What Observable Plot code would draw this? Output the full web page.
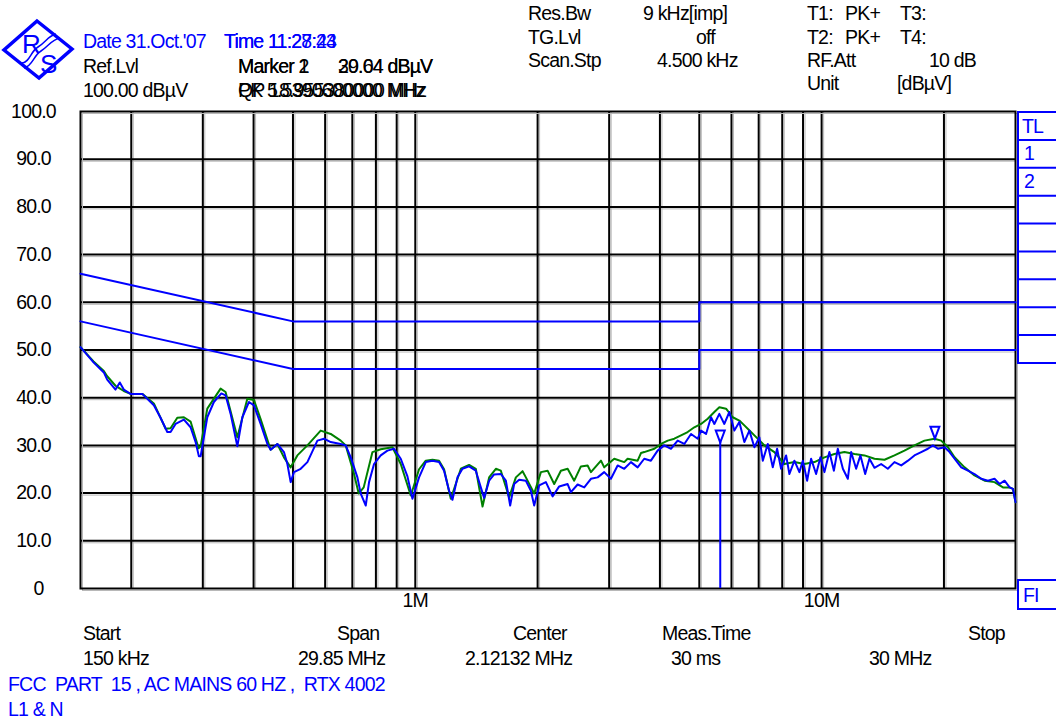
<!DOCTYPE html>
<html><head><meta charset="utf-8">
<script src="https://cdn.jsdelivr.net/npm/d3@7"></script>
<script src="https://cdn.jsdelivr.net/npm/@observablehq/plot@0.6"></script>
<style>
body{margin:0;background:#fff;}
#wrap{position:relative;width:1056px;height:722px;overflow:hidden;background:#fff;}
#wrap svg{position:absolute;left:0;top:0;}
</style></head>
<body><div id="wrap"></div>
<script>
// ---------- data ----------
const gridFreqs = [0.2,0.3,0.4,0.5,0.6,0.7,0.8,0.9,1,2,3,4,5,6,7,8,9,10,20];
const gridLevels = [10,20,30,40,50,60,70,80,90];
const yTicks = [0,10,20,30,40,50,60,70,80,90,100];
const yTickLabels = ["\u20070","10.0","20.0","30.0","40.0","50.0","60.0","70.0","80.0","90.0","100.0"];
const xTickFreqs = [1,10];
const xTickLabels = ["1M","10M"];

const limitFreqs = [0.15,0.5,5,5,30];
const limit1Levels = [66,56,56,60,60];
const limit2Levels = [56,46,46,50,50];

const blueFreq = [0.15,0.1615,0.1712,0.1745,0.1829,0.1874,0.1917,0.1992,0.2129,0.2273,0.2361,0.2453,0.2499,0.2571,0.2695,0.2799,0.2880,0.2934,0.2963,0.3077,0.3194,0.3332,0.3413,0.3512,0.3648,0.3753,0.3896,0.4008,0.4163,0.4325,0.4406,0.4577,0.4751,0.4844,0.4935,0.5029,0.5224,0.5426,0.5742,0.5962,0.6192,0.6554,0.6742,0.6936,0.7204,0.7341,0.7553,0.7695,0.7916,0.8222,0.8540,0.8866,0.9209,0.9565,0.9840,1.0216,1.0612,1.1023,1.1441,1.1771,1.2109,1.2346,1.2700,1.3065,1.3565,1.4090,1.4495,1.4771,1.5197,1.5634,1.6239,1.6708,1.7120,1.7511,1.8018,1.8715,1.9253,1.9616,2.0179,2.0961,2.1771,2.2604,2.3708,2.4153,2.5089,2.6049,2.7056,2.8103,2.9172,3.0303,3.1475,3.2678,3.3942,3.5255,3.6596,3.8007,3.9479,4.0991,4.2578,4.4225,4.5930,4.7708,4.9556,5.049,5.195,5.343,5.445,5.601,5.762,5.928,6.098,6.273,6.454,6.640,6.832,7.028,7.165,7.370,7.582,7.770,7.947,8.177,8.331,8.570,8.817,8.989,9.211,9.422,9.692,9.932,10.16,10.45,10.72,10.96,11.28,11.60,11.82,12.16,12.46,12.80,13.11,13.49,14.01,14.55,15.11,15.70,16.31,16.92,17.58,18.26,18.79,19.33,20.07,20.65,21.24,22.06,22.91,23.78,24.71,25.66,26.64,27.41,28.20,29.01,29.57,30];
const blueLevel = [50.6,47.4,45.3,43.8,41.7,43.2,41.7,40.8,40.8,38.4,35.8,32.8,32.8,34.5,35.4,33.8,30.7,27.7,27.7,35.9,39.1,40.9,40.5,36.6,29.8,35.9,39.1,38.4,34.5,30.3,29.1,30.3,28.6,26.1,22.3,24.4,25.1,26.5,31.0,31.4,30.7,30.3,30.0,27.5,23.3,19.9,17.4,22.3,26.1,27.9,28.9,29.3,27.2,23.5,18.8,23.3,26.5,26.8,26.5,24.7,20.5,18.6,23.3,25.1,25.6,24.7,21.2,19.0,22.6,23.9,24.0,22.6,17.4,21.9,22.8,22.6,20.5,17.4,21.6,22.3,19.3,21.4,21.9,20.2,21.8,21.2,23.0,23.3,24.4,23.0,25.8,25.1,26.5,25.4,27.2,26.8,28.9,30.0,29.3,31.0,30.3,32.4,31.4,33.1,32.4,35.9,34.5,36.6,34.5,37.0,33.1,34.9,30.7,33.1,29.6,31.7,26.8,30.3,25.4,29.3,25.1,27.9,24.0,26.8,24.4,26.8,22.6,27.2,24.0,27.5,24.4,28.6,24.7,29.3,25.1,23.0,28.6,25.1,27.9,24.0,27.2,25.3,26.1,25.1,26.5,25.8,26.8,27.9,28.6,29.3,30.0,29.3,29.6,28.6,27.2,25.4,24.7,24.0,23.0,22.6,23.0,21.9,22.6,21.2,20.9,18.1];

const greenFreq = [0.15,0.1615,0.1712,0.1745,0.1829,0.1860,0.1917,0.1992,0.2129,0.2273,0.2430,0.2499,0.2596,0.2695,0.2799,0.2929,0.2963,0.3077,0.3318,0.3413,0.3648,0.3861,0.4008,0.4163,0.4406,0.4577,0.4751,0.4935,0.5126,0.5426,0.5850,0.6192,0.6554,0.6742,0.7068,0.7257,0.7466,0.7845,0.8222,0.8785,0.9209,0.9748,1.0216,1.0612,1.1023,1.1441,1.1771,1.2229,1.2945,1.3565,1.4090,1.4638,1.5197,1.5787,1.6239,1.7022,1.7682,1.8366,1.8715,1.9616,2.0375,2.1164,2.1972,2.2820,2.3708,2.4609,2.5562,2.6552,2.7056,2.8643,2.9172,3.0876,3.2678,3.3306,3.5255,3.5925,3.6596,3.8751,4.025,4.1807,4.34,4.5081,4.68,4.8604,5.049,5.2445,5.4449,5.6013,5.818,6.043,6.273,6.454,6.579,6.832,7.229,7.651,8.098,8.570,9.070,9.601,10.16,10.75,11.38,12.05,12.75,13.49,14.28,15.11,15.99,16.92,17.91,18.96,19.69,20.46,21.24,22.48,23.78,25.18,26.64,27.94,29.01,29.57,30];
const greenLevel = [50.6,47.6,45.6,44.5,42.5,42.1,41.4,40.8,40.8,38.8,33.5,33.6,35.8,35.9,35.0,29.4,29.8,37.7,41.9,41.2,31.7,39.8,39.5,35.5,29.1,30.3,27.5,25.4,27.9,30.0,33.1,32.4,31.0,30.0,24.0,19.9,21.2,28.6,29.2,29.6,26.1,19.5,25.0,26.8,27.0,26.8,25.0,18.8,25.1,25.9,25.1,17.2,23.3,25.1,24.7,19.1,23.3,24.6,23.3,19.9,24.4,24.7,21.9,24.7,25.1,22.6,25.6,25.8,24.4,26.8,25.4,27.2,26.5,27.2,26.8,28.4,28.6,29.3,30.3,31.0,31.4,32.1,32.8,33.8,34.5,35.6,37.0,38.0,37.7,35.9,35.2,34.2,33.5,32.1,30.0,28.6,26.1,26.5,26.1,26.5,27.5,28.2,28.6,28.2,27.9,27.2,27.0,27.9,28.9,30.0,31.0,31.4,31.0,29.6,27.5,25.4,23.7,22.6,22.3,21.2,21.2,20.9,18.1];

const markerFreq = [5.63, 19.0];
const markerLevel = [30.6, 31.4];

// ---------- tables ----------
const blue = blueFreq.map((f,i)=>({f, v: blueLevel[i]}));
const green = greenFreq.map((f,i)=>({f, v: greenLevel[i]}));
const lim1 = limitFreqs.map((f,i)=>({f, v: limit1Levels[i]}));
const lim2 = limitFreqs.map((f,i)=>({f, v: limit2Levels[i]}));
const markers = markerFreq.map((f,i)=>({f, v: markerLevel[i]}));

const BLUE = "#0000ff", GREEN = "#008000";
const FONT = "'Liberation Sans', Arial, sans-serif";

const triDown = { draw(ctx, size) { const w = 4.5, h = 12; ctx.moveTo(-w, -h); ctx.lineTo(w, -h); ctx.lineTo(0, 0); ctx.closePath(); } };

const chart = Plot.plot({
  width: 1056, height: 722,
  marginLeft: 80, marginRight: 41, marginTop: 111, marginBottom: 134,
  x: {type: "log", domain: [0.15, 30]},
  y: {domain: [0, 100]},
  style: {fontFamily: FONT, fontSize: "19.5px", letterSpacing: "-0.8px", background: "white", color: "black", overflow: "visible"},
  marks: [
    Plot.ruleX(gridFreqs, {stroke: "#b8b8b8", strokeWidth: 1, dx: 2}),
    Plot.ruleY(gridLevels, {stroke: "#b8b8b8", strokeWidth: 1, dy: 2}),
    Plot.ruleX(gridFreqs, {stroke: "black", strokeWidth: 2}),
    Plot.ruleY(gridLevels, {stroke: "black", strokeWidth: 2}),
    Plot.frame({stroke: "#b8b8b8", strokeWidth: 1, dx: 2, dy: 2}),
    Plot.frame({stroke: "black", strokeWidth: 2}),
    Plot.line(lim1, {x: "f", y: "v", stroke: BLUE, strokeWidth: 2}),
    Plot.line(lim2, {x: "f", y: "v", stroke: BLUE, strokeWidth: 2}),
    Plot.line(green, {x: "f", y: "v", stroke: GREEN, strokeWidth: 2, strokeLinejoin: "round"}),
    Plot.line(blue, {x: "f", y: "v", stroke: BLUE, strokeWidth: 2, strokeLinejoin: "round"}),
    Plot.ruleX(markers.slice(0,1), {x: "f", y1: d => 0, y2: "v", stroke: BLUE, strokeWidth: 2}),
    Plot.dot(markers, {x: "f", y: "v", symbol: triDown, r: 5, stroke: BLUE, strokeWidth: 2, fill: "none"}),
    Plot.axisY({ticks: yTicks, tickFormat: d => yTickLabels[yTicks.indexOf(d)], tickSize: 0, tickPadding: 47, textAnchor: "middle", label: null}),
    Plot.axisX({ticks: xTickFreqs, tickFormat: d => xTickLabels[xTickFreqs.indexOf(d)], tickSize: 0, tickPadding: 5, label: null})
  ]
});
const wrap = document.getElementById("wrap");
wrap.appendChild(chart);

// ---------- annotations (instrument readout) ----------
const headerTexts = [
  ["Date 31.Oct.'07", 83, 48, BLUE],
  ["Time 11:27:24", 224, 48, BLUE],
  ["Time 11:28:43", 224, 48, BLUE],
  ["Ref.Lvl", 83, 72.5, "#000"],
  ["Marker 1", 238, 72.5, "#000"],
  ["Marker 2", 238, 72.5, "#000"],
  ["29.64 dBµV", 338, 72.5, "#000"],
  ["30.04 dBµV", 338, 72.5, "#000"],
  ["100.00 dBµV", 83, 97, "#000"],
  ["QP 18.955380000 MHz", 238, 97, "#000"],
  ["PK 5.5390600000 MHz", 238, 97, "#000"],
  ["Res.Bw", 528, 20, "#000"], ["9 kHz[imp]", 643, 20, "#000"],
  ["TG.Lvl", 528, 43.5, "#000"], ["off", 696, 43.5, "#000"],
  ["Scan.Stp", 528, 67, "#000"], ["4.500 kHz", 657, 67, "#000"],
  ["T1:", 807, 20, "#000"], ["PK+", 845, 20, "#000"], ["T3:", 900, 20, "#000"],
  ["T2:", 807, 43.5, "#000"], ["PK+", 845, 43.5, "#000"], ["T4:", 900, 43.5, "#000"],
  ["RF.Att", 807, 67, "#000"], ["10 dB", 929, 67, "#000"],
  ["Unit", 807, 90, "#000"], ["[dBµV]", 897, 90, "#000"],
  ["Start", 83, 640, "#000"], ["150 kHz", 83, 665, "#000"],
  ["Span", 337, 640, "#000"], ["29.85 MHz", 298, 665, "#000"],
  ["Center", 513, 640, "#000"], ["2.12132 MHz", 465, 665, "#000"],
  ["Meas.Time", 662, 640, "#000"], ["30 ms", 671, 665, "#000"],
  ["Stop", 968, 640, "#000"], ["30 MHz", 869, 665, "#000"],
  ["FCC  PART  15 , AC MAINS 60 HZ ,  RTX 4002", 8, 691, BLUE],
  ["L1 & N", 8, 716, BLUE],
  ["TL", 1022, 133, BLUE], ["1", 1024, 160, BLUE], ["2", 1024, 188, BLUE],
  ["FI", 1023, 602, BLUE]
];

const ov = d3.create("svg").attr("width", 1056).attr("height", 722)
  .style("pointer-events", "none").style("font-family", FONT).style("font-size", "19.5px").style("letter-spacing", "-0.8px");

// trace table panel at right
const panelTop = 112, panelBottom = 363, panelRows = 9;
const rowH = (panelBottom - panelTop) / panelRows;
ov.append("rect").attr("x", 1018).attr("y", panelTop).attr("width", 60).attr("height", panelBottom - panelTop)
  .attr("fill", "none").attr("stroke", BLUE).attr("stroke-width", 2);
for (let i = 1; i < panelRows; i++) {
  ov.append("line").attr("x1", 1018).attr("x2", 1056).attr("y1", panelTop + i * rowH).attr("y2", panelTop + i * rowH)
    .attr("stroke", BLUE).attr("stroke-width", 2);
}
ov.append("rect").attr("x", 1018).attr("y", 580).attr("width", 60).attr("height", 29)
  .attr("fill", "none").attr("stroke", BLUE).attr("stroke-width", 2);

// logo
const logo = ov.append("g");
logo.append("polygon").attr("points", "37,21 72,49 39,78 4,50").attr("fill", "none").attr("stroke", BLUE).attr("stroke-width", 3.5).attr("stroke-linejoin", "miter");
logo.append("text").attr("x", 22).attr("y", 53).attr("fill", BLUE).style("font-size", "26px").style("letter-spacing", "0").text("R");
logo.append("text").attr("x", 40).attr("y", 73).attr("fill", BLUE).style("font-size", "26px").style("letter-spacing", "0").text("S");
logo.append("path").attr("d", "M22,63 C30,62 30,52 38,47 S48,36 56,34").attr("fill", "none").attr("stroke", BLUE).attr("stroke-width", 1.5);
logo.append("path").attr("d", "M24,68 C33,66 33,56 41,51 S51,40 60,38").attr("fill", "none").attr("stroke", BLUE).attr("stroke-width", 1.5);

ov.append("g").selectAll("text").data(headerTexts).join("text")
  .attr("x", d => d[1]).attr("y", d => d[2]).attr("fill", d => d[3]).style("white-space", "pre").attr("xml:space", "preserve").text(d => d[0]);

wrap.appendChild(ov.node());
</script>
</body></html>
